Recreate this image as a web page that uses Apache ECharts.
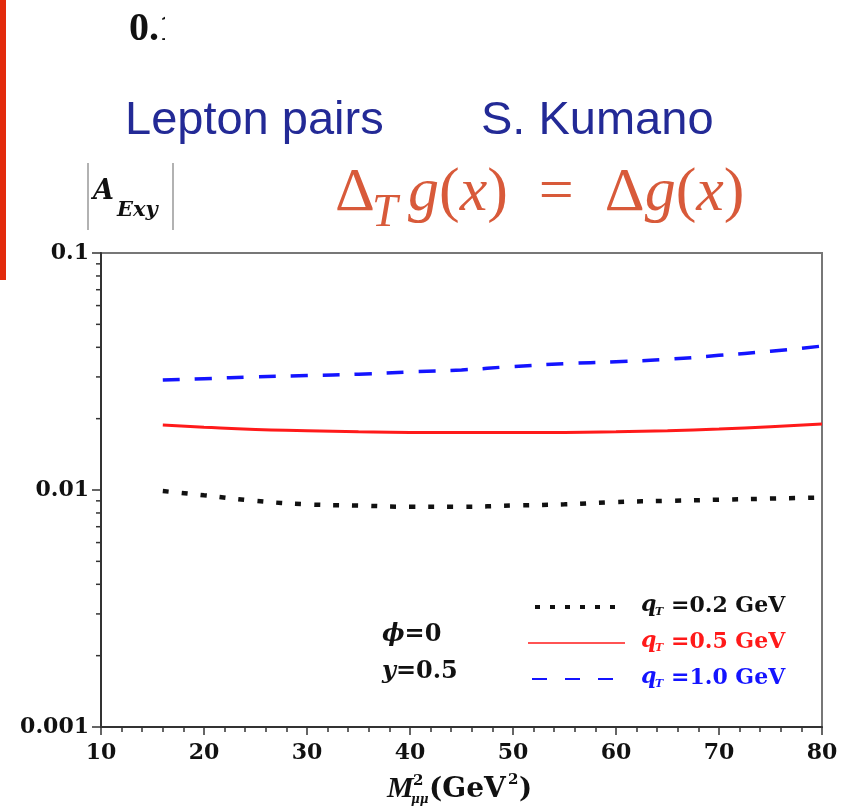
<!DOCTYPE html>
<html>
<head>
<meta charset="utf-8">
<script src="https://cdn.jsdelivr.net/npm/echarts@6/dist/echarts.min.js"></script>
<style>
html,body{margin:0;padding:0;background:#fff;}
#chart{width:861px;height:811px;}
</style>
</head>
<body>
<div id="chart"></div>
<script>
// ---- data ----
const xValues = [16, 20, 25, 30, 35, 40, 45, 50, 55, 60, 65, 70, 75, 80];
const qT02 = [0.0099, 0.0095, 0.0090, 0.0087, 0.0086, 0.0085, 0.0085, 0.0086, 0.0087, 0.0089, 0.0090, 0.0091, 0.0092, 0.0093];
const qT05 = [0.0188, 0.0184, 0.0180, 0.0178, 0.0176, 0.0175, 0.0175, 0.0175, 0.0175, 0.0176, 0.0178, 0.0181, 0.0185, 0.0190];
const qT10 = [0.0291, 0.0295, 0.0300, 0.0304, 0.0308, 0.0315, 0.0321, 0.0332, 0.0341, 0.0348, 0.0356, 0.0370, 0.0385, 0.0405];
const seriesNames = ['qT=0.2 GeV', 'qT=0.5 GeV', 'qT=1.0 GeV'];
const xTickLabels = ['10', '20', '30', '40', '50', '60', '70', '80'];
const yTickLabels = ['0.001', '0.01', '0.1'];
const yMinorTicks = [0.002, 0.003, 0.004, 0.005, 0.006, 0.007, 0.008, 0.009,
                     0.02, 0.03, 0.04, 0.05, 0.06, 0.07, 0.08, 0.09];

const pairs = (ys) => xValues.map((x, i) => [x, ys[i]]);
const NUMFONT = 'DejaVu Serif';
const SERIF = 'Liberation Serif';
const ORANGE = '#d85a3a';
const RED = '#ff1a1a';
const BLUE = '#1414ff';
const INK = '#111111';

function txt(x, y, text, o) {
  return {type: 'text', x: x, y: y, z: 20, style: Object.assign({
    text: text, fill: INK, fontFamily: NUMFONT, fontWeight: 'bold', fontSize: 22,
    verticalAlign: 'middle', align: 'left'}, o || {})};
}

const chart = echarts.init(document.getElementById('chart'), null, {renderer: 'canvas'});

const option = {
  animation: false,
  backgroundColor: '#ffffff',
  grid: {left: 101, top: 253, width: 721, height: 474, show: true,
         borderColor: '#777', borderWidth: 2, backgroundColor: 'transparent'},
  xAxis: {
    type: 'value', min: 10, max: 80, interval: 10,
    axisLine: {show: true, onZero: false, lineStyle: {color: '#333', width: 2}},
    axisTick: {show: true, inside: false, length: 8, lineStyle: {color: '#333', width: 1.5}},
    minorTick: {show: true, splitNumber: 5, length: 5, lineStyle: {color: '#333', width: 1.5}},
    splitLine: {show: false},
    axisLabel: {fontFamily: NUMFONT, fontWeight: 'bold', fontSize: 22, color: INK, margin: 15,
                formatter: (v, i) => xTickLabels[i] !== undefined ? xTickLabels[i] : String(v)}
  },
  yAxis: {
    type: 'log', logBase: 10, min: 0.001, max: 0.1,
    axisLine: {show: true, lineStyle: {color: '#333', width: 2}},
    axisTick: {show: true, inside: false, length: 9, lineStyle: {color: '#333', width: 1.5}},
    splitLine: {show: false},
    axisLabel: {fontFamily: NUMFONT, fontWeight: 'bold', fontSize: 22, color: INK, margin: 12,
                formatter: (v, i) => yTickLabels[i] !== undefined ? yTickLabels[i] : String(v)}
  },
  series: [
    {
      name: seriesNames[0], type: 'line', data: pairs(qT02), smooth: true,
      showSymbol: false, symbol: 'none',
      lineStyle: {color: INK, width: 4.5, type: [6, 13], cap: 'butt'}
    },
    {
      name: seriesNames[1], type: 'line', data: pairs(qT05), smooth: true,
      showSymbol: false, symbol: 'none',
      lineStyle: {color: RED, width: 3}
    },
    {
      name: seriesNames[2], type: 'line', data: pairs(qT10), smooth: true,
      showSymbol: false, symbol: 'none',
      lineStyle: {color: BLUE, width: 3.5, type: [17, 15], cap: 'butt'}
    },
    {
      name: 'yMinorTicks', type: 'custom', silent: true, clip: false,
      data: yMinorTicks.map(v => [10, v]),
      renderItem: (params, api) => {
        const p = api.coord([api.value(0), api.value(1)]);
        return {type: 'line', shape: {x1: p[0] - 5, y1: p[1], x2: p[0], y2: p[1]},
                style: {stroke: '#333', lineWidth: 1.5}};
      }
    }
  ],
  graphic: [
    // red bar at the left edge of the slide
    {type: 'rect', left: 0, top: 0, shape: {width: 6, height: 280}, style: {fill: '#e32a0c'}},
    // truncated "0.1" at the top
    txt(129, 30, '0.1', {fontFamily: SERIF, fontSize: 40}),
    {type: 'rect', x: 165, y: 5, z: 30, shape: {width: 50, height: 50}, style: {fill: '#fff'}},
    // titles
    txt(125, 121, 'Lepton pairs', {fontFamily: 'Liberation Sans', fontWeight: 'normal', fontSize: 47, fill: '#232a96'}),
    txt(481, 121, 'S. Kumano', {fontFamily: 'Liberation Sans', fontWeight: 'normal', fontSize: 47, fill: '#232a96'}),
    // formula
    txt(335, 194, 'Δ', {fontFamily: SERIF, fontWeight: 'normal', fontSize: 62, fill: ORANGE}),
    txt(372, 214, 'T', {fontFamily: SERIF, fontWeight: 'normal', fontStyle: 'italic', fontSize: 46, fill: ORANGE}),
    {type: 'text', x: 408, y: 194, z: 20, style: {
      text: '{i|g}{u|(}{i|x}{u|)  =  Δ}{i|g}{u|(}{i|x}{u|)}',
      verticalAlign: 'middle', fill: ORANGE, fontFamily: SERIF, fontSize: 62,
      rich: {
        i: {fontFamily: SERIF, fontStyle: 'italic', fontSize: 62, fill: ORANGE},
        u: {fontFamily: SERIF, fontStyle: 'normal', fontSize: 62, fill: ORANGE}
      }}},
    // y-axis title |A_Exy|
    {type: 'line', shape: {x1: 88, y1: 163, x2: 88, y2: 230}, style: {stroke: '#999', lineWidth: 1.5}},
    {type: 'line', shape: {x1: 173, y1: 163, x2: 173, y2: 230}, style: {stroke: '#999', lineWidth: 1.5}},
    txt(93, 192, 'A', {fontStyle: 'italic', fontSize: 27}),
    txt(117, 211, 'Exy', {fontStyle: 'italic', fontSize: 21}),
    // x-axis title M^2_μμ (GeV^2)
    txt(387, 789, 'M', {fontFamily: SERIF, fontStyle: 'italic', fontSize: 30}),
    txt(413, 781, '2', {fontSize: 15}),
    txt(411, 800, 'μμ', {fontStyle: 'italic', fontSize: 12}),
    txt(429, 790, '(GeV', {fontSize: 28}),
    txt(508, 780, '2', {fontSize: 15}),
    txt(519, 790, ')', {fontSize: 28}),
    // φ=0, y=0.5
    {type: 'text', x: 382, y: 635, z: 20, style: {
      text: '{i|ϕ}{u|=0}', verticalAlign: 'middle', fill: INK, fontFamily: NUMFONT, fontWeight: 'bold', fontSize: 24,
      rich: {i: {fontFamily: NUMFONT, fontStyle: 'italic', fontWeight: 'bold', fontSize: 24, fill: INK},
             u: {fontFamily: NUMFONT, fontWeight: 'bold', fontSize: 24, fill: INK}}}},
    {type: 'text', x: 382, y: 672, z: 20, style: {
      text: '{i|y}{u|=0.5}', verticalAlign: 'middle', fill: INK, fontFamily: NUMFONT, fontWeight: 'bold', fontSize: 24,
      rich: {i: {fontFamily: NUMFONT, fontStyle: 'italic', fontWeight: 'bold', fontSize: 24, fill: INK},
             u: {fontFamily: NUMFONT, fontWeight: 'bold', fontSize: 24, fill: INK}}}},
    // legend samples
    {type: 'line', shape: {x1: 535, y1: 607, x2: 620, y2: 607}, style: {stroke: INK, lineWidth: 4, lineDash: [5, 10], lineCap: 'butt'}},
    {type: 'line', shape: {x1: 528, y1: 643, x2: 625, y2: 643}, style: {stroke: RED, lineWidth: 1.5}},
    {type: 'line', shape: {x1: 532, y1: 679, x2: 614, y2: 679}, style: {stroke: BLUE, lineWidth: 2, lineDash: [15, 18], lineCap: 'butt'}},
    // legend texts
    txt(641, 605, 'q', {fontStyle: 'italic', fill: INK}),
    txt(655, 612, 'T', {fontStyle: 'italic', fontSize: 11, fill: INK}),
    txt(671, 606, '=0.2 GeV', {fill: INK}),
    txt(641, 641, 'q', {fontStyle: 'italic', fill: RED}),
    txt(655, 648, 'T', {fontStyle: 'italic', fontSize: 11, fill: RED}),
    txt(671, 642, '=0.5 GeV', {fill: RED}),
    txt(641, 677, 'q', {fontStyle: 'italic', fill: BLUE}),
    txt(655, 684, 'T', {fontStyle: 'italic', fontSize: 11, fill: BLUE}),
    txt(671, 678, '=1.0 GeV', {fill: BLUE})
  ]
};
chart.setOption(option);
</script>
</body>
</html>
